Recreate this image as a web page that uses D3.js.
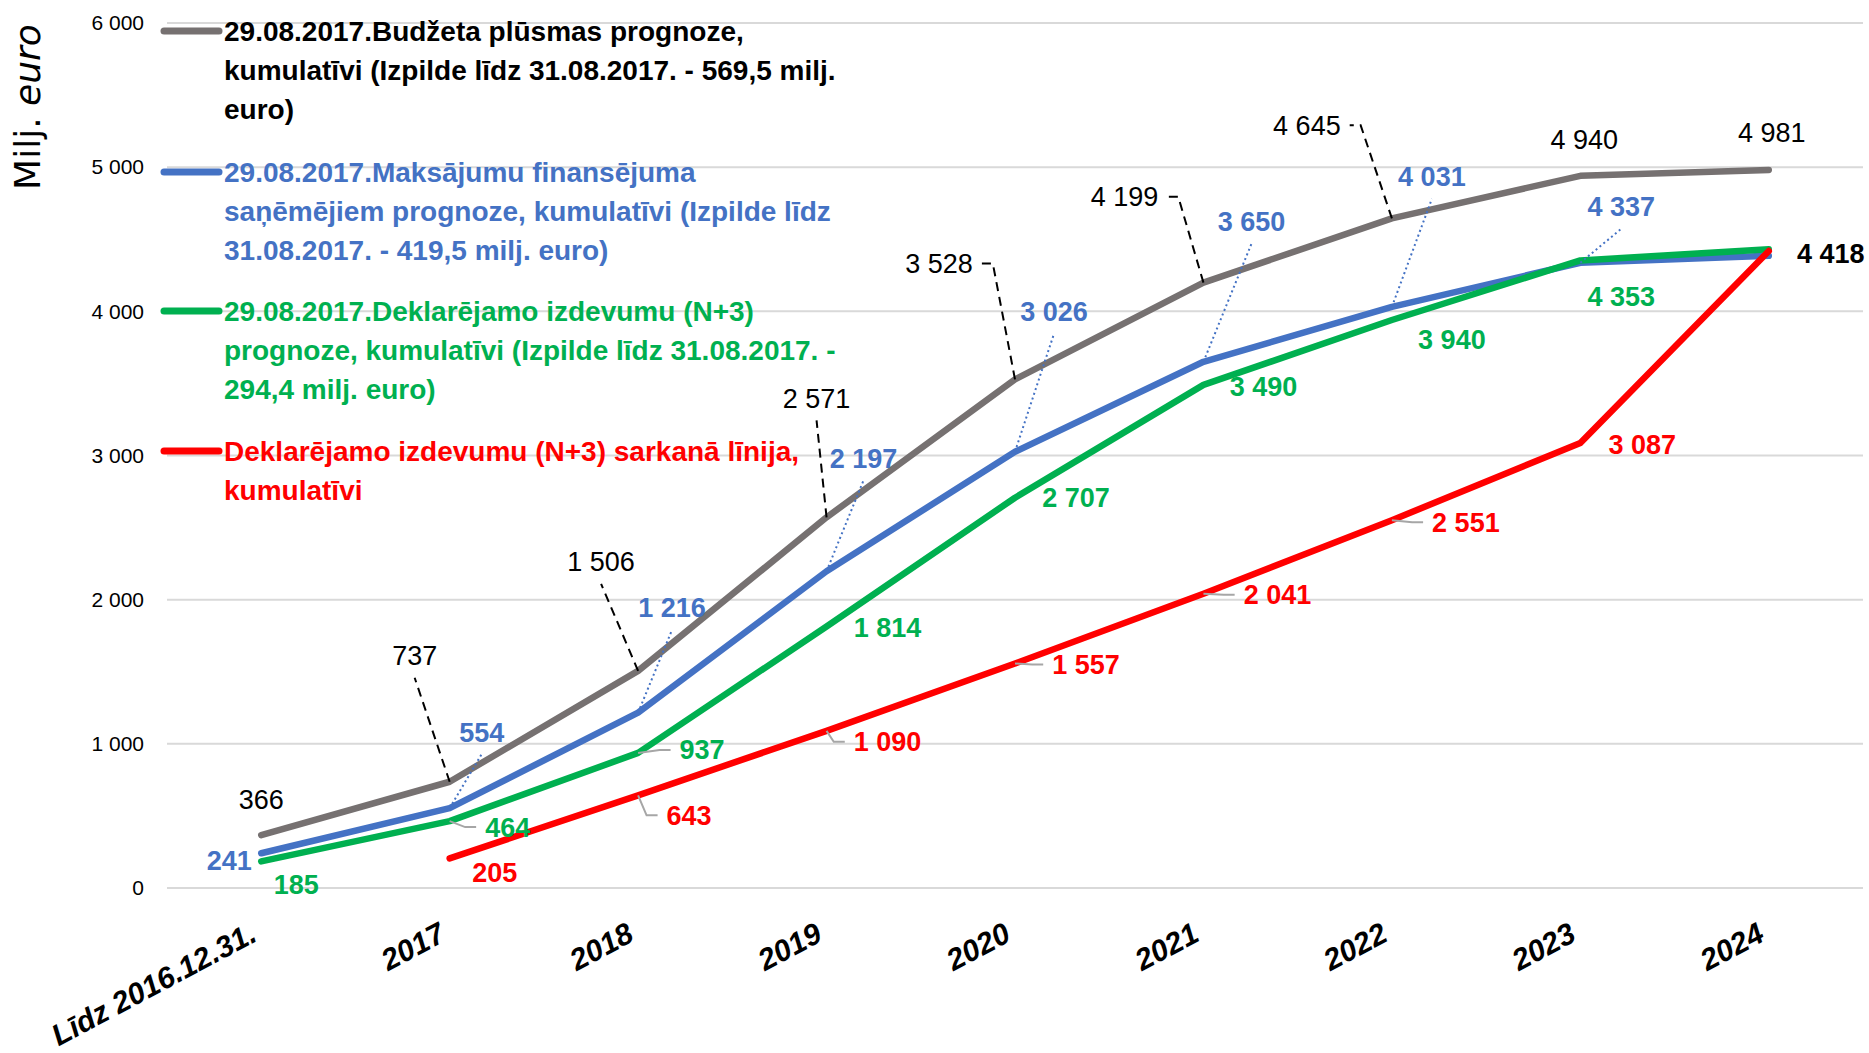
<!DOCTYPE html>
<html>
<head>
<meta charset="utf-8">
<title>Budžeta plūsmas prognoze</title>
<script src="https://d3js.org/d3.v7.min.js"></script>
<style>
  body { margin: 0; background: #fff; }
  svg { display: block; font-family: "Liberation Sans", Arial, sans-serif; }
</style>
</head>
<body>
<div class="line-chart"></div>

<script>
  // categories and series (milj. euro, cumulative)
  const categories = ['Līdz 2016.12.31.', '2017', '2018', '2019', '2020', '2021', '2022', '2023', '2024'];
  const budgetFlow = [366, 737, 1506, 2571, 3528, 4199, 4645, 4940, 4981];
  const payments   = [241, 554, 1216, 2197, 3026, 3650, 4031, 4337, 4385];
  const declared   = [185, 464, 937, 1814, 2707, 3490, 3940, 4353, 4430];
  const redLine    = [null, 205, 643, 1090, 1557, 2041, 2551, 3087, 4418];
  const yTicks = [0, 1000, 2000, 3000, 4000, 5000, 6000];

  // legend text, already broken into lines like the original
  const legendBudget   = ['29.08.2017.Budžeta plūsmas prognoze,', 'kumulatīvi (Izpilde līdz 31.08.2017. - 569,5 milj.', 'euro)'];
  const legendPayments = ['29.08.2017.Maksājumu finansējuma', 'saņēmējiem prognoze, kumulatīvi (Izpilde līdz', '31.08.2017. - 419,5 milj. euro)'];
  const legendDeclared = ['29.08.2017.Deklarējamo izdevumu (N+3)', 'prognoze, kumulatīvi (Izpilde līdz 31.08.2017. -', '294,4 milj. euro)'];
  const legendRed      = ['Deklarējamo izdevumu (N+3) sarkanā līnija,', 'kumulatīvi'];

  const W = 1869, H = 1053;

  const svg = d3.select('.line-chart')
    .append('svg')
    .attr('width', W)
    .attr('height', H);

  const x = d3.scalePoint()
    .domain(categories)
    .range([167, 1863])
    .padding(0.5);

  const y = d3.scaleLinear()
    .domain([0, 6000])
    .range([888, 23]);

  const fmt = d3.formatLocale({ decimal: ',', thousands: '\u00a0', grouping: [3], currency: ['', ''] }).format(',d');

  // label placement (offset of label centre from its point) and leader kind
  const series = [
    { values: budgetFlow, color: '#767171', text: '#000', weight: 'normal', legend: legendBudget,
      leader: { color: '#000', dash: '9,6' },
      offsets: [[0,-36],[-35,-126],[-37,-109],[-10,-119],[-76,-116],[-79,-86],[-85,-93],[4,-36],[3,-37]],
      leaders: ['', 'b', 'b', 'b', 's', 's', 's', '', ''] },
    { values: payments, color: '#4472C4', text: '#4472C4', weight: 'bold', legend: legendPayments,
      leader: { color: '#4472C4', dash: '2,3' },
      offsets: [[-32,7],[32,-76],[34,-105],[37,-113],[39,-140],[48,-140],[40,-130],[41,-56], null],
      leaders: ['', 'b', 'b', 'b', 'b', 'b', 'b', 'b', ''] },
    { values: declared, color: '#00B050', text: '#00B050', weight: 'bold', legend: legendDeclared,
      leader: { color: '#a6a6a6', dash: null },
      offsets: [[35,23],[58,6],[64,-3],[61,1],[61,0],[60,2],[60,20],[41,36], null],
      leaders: ['', 's', 's', '', '', '', '', '', ''] },
    { values: redLine, color: '#FF0000', text: '#FF0000', weight: 'bold', legend: legendRed, lastText: '#000',
      leader: { color: '#a6a6a6', dash: null },
      offsets: [null,[45,14],[51,20],[61,11],[71,1],[74,1],[74,2],[62,2],[62,2]],
      leaders: ['', '', 's', 's', 's', 's', 's', '', ''] }
  ];

  // gridlines
  svg.append('g')
    .selectAll('line')
    .data(yTicks)
    .enter()
    .append('line')
    .attr('x1', 167)
    .attr('x2', 1863)
    .attr('y1', d => y(d))
    .attr('y2', d => y(d))
    .attr('stroke', '#d9d9d9')
    .attr('stroke-width', 2);

  // y axis labels
  const yAxis = svg.append('g')
    .attr('transform', 'translate(144,0)')
    .call(d3.axisLeft(y).tickValues(yTicks).tickSize(0).tickPadding(0).tickFormat(fmt));
  yAxis.select('.domain').remove();
  yAxis.attr('font-family', null).attr('font-size', null);
  yAxis.selectAll('text')
    .attr('font-size', '21px')
    .attr('fill', '#000');

  // x axis labels, rotated
  const xAxis = svg.append('g')
    .attr('transform', 'translate(0,888)')
    .call(d3.axisBottom(x).tickSize(0).tickPadding(0));
  xAxis.select('.domain').remove();
  xAxis.attr('font-family', null).attr('font-size', null);
  xAxis.selectAll('text')
    .attr('y', 0)
    .attr('dy', 0)
    .attr('text-anchor', 'end')
    .attr('transform', 'translate(-3,52) rotate(-28)')
    .attr('font-size', '30px')
    .attr('font-weight', 'bold')
    .attr('font-style', 'italic')
    .attr('fill', '#000');

  // y axis title
  const title = svg.append('text')
    .attr('transform', 'translate(40,107) rotate(-90)')
    .attr('text-anchor', 'middle')
    .attr('font-family', '"DejaVu Sans", sans-serif')
    .attr('font-size', '36px')
    .attr('fill', '#000');
  title.append('tspan').text('Milj. ');
  title.append('tspan').attr('font-style', 'italic').text('euro');

  // legend
  const legendY = [31, 172, 311, 451];
  series.forEach(function(s, k) {
    svg.append('line')
      .attr('x1', 164).attr('x2', 219)
      .attr('y1', legendY[k]).attr('y2', legendY[k])
      .attr('stroke', s.color)
      .attr('stroke-width', 7)
      .attr('stroke-linecap', 'round');
    const t = svg.append('text')
      .attr('x', 224)
      .attr('y', legendY[k])
      .attr('font-size', '28px')
      .attr('font-weight', 'bold')
      .attr('fill', s.text);
    s.legend.forEach(function(line, j) {
      t.append('tspan')
        .attr('x', 224)
        .attr('y', legendY[k] + j * 39)
        .attr('dy', '0.35em')
        .text(line);
    });
  });

  // series lines
  const line = d3.line()
    .defined(d => d != null)
    .x((d, i) => x(categories[i]))
    .y(d => y(d));

  series.forEach(function(s) {
    svg.append('path')
      .datum(s.values)
      .attr('d', line)
      .attr('fill', 'none')
      .attr('stroke', s.color)
      .attr('stroke-width', 6.5)
      .attr('stroke-linecap', 'round')
      .attr('stroke-linejoin', 'round');
  });

  // data labels + leader lines
  const leaderLayer = svg.append('g');
  const labelLayer = svg.append('g');

  series.forEach(function(s) {
    s.values.forEach(function(v, i) {
      const off = s.offsets[i];
      if (v == null || off == null) return;
      const px = x(categories[i]), py = y(v);
      const lx = px + off[0], ly = py + off[1];
      const isLast = i === s.values.length - 1 && s.lastText;

      const label = labelLayer.append('text')
        .attr('x', lx)
        .attr('y', ly)
        .attr('dy', '0.35em')
        .attr('text-anchor', 'middle')
        .attr('font-size', '27px')
        .attr('font-weight', isLast ? 'bold' : s.weight)
        .attr('fill', isLast ? s.lastText : s.text)
        .text(fmt(v));

      const kind = s.leaders[i];
      if (!kind) return;
      const half = label.node().getComputedTextLength() / 2;
      let pts;
      if (kind === 'b') {
        pts = [[px, py], [lx, ly + 22]];
      } else if (off[0] < 0) {
        pts = [[px, py], [lx + half + 20, ly], [lx + half + 9, ly]];
      } else {
        pts = [[px, py], [lx - half - 20, ly], [lx - half - 9, ly]];
      }
      leaderLayer.append('path')
        .attr('d', d3.line()(pts))
        .attr('fill', 'none')
        .attr('stroke', s.leader.color)
        .attr('stroke-width', 2)
        .attr('stroke-dasharray', s.leader.dash);
    });
  });
</script>
</body>
</html>
